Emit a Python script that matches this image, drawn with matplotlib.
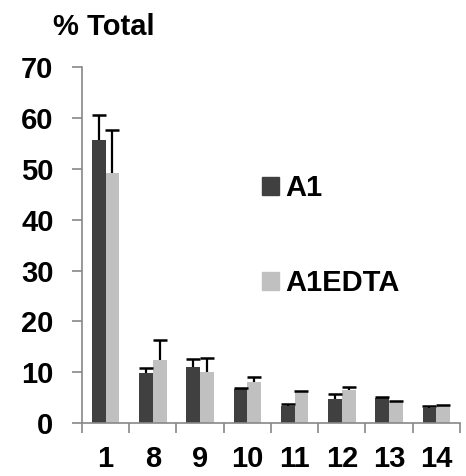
import numpy as np
import matplotlib.pyplot as plt

plt.rcParams['font.family'] = ['Liberation Sans', 'DejaVu Sans']
plt.rcParams['font.weight'] = 'bold'

categories = ['1', '8', '9', '10', '11', '12', '13', '14']
a1 = [55.6, 9.8, 11.1, 6.8, 3.4, 4.7, 5.0, 3.0]
a1_err = [4.9, 1.0, 1.5, 0.2, 0.4, 1.0, 0.1, 0.4]
a1edta = [49.1, 12.4, 10.1, 8.0, 6.3, 6.5, 4.3, 3.4]
a1edta_err = [8.5, 3.9, 2.8, 1.0, 0.1, 0.7, 0.1, 0.2]

fig = plt.figure(figsize=(4.66, 4.76), dpi=100)
ax = fig.add_axes([0.176, 0.111, 0.811, 0.748])

x = np.arange(len(categories))
w = 0.29
ax.bar(x - w / 2, a1, w, color='#404040')
ax.bar(x + w / 2, a1edta, w, color='#c0c0c0')

# upper-only error bars
for xs, vals, errs in [(x - w / 2, a1, a1_err), (x + w / 2, a1edta, a1edta_err)]:
    eb = ax.errorbar(xs, vals, yerr=[np.zeros(len(vals)), errs], fmt='none',
                     ecolor='black', elinewidth=1.6, capsize=5, capthick=1.8)
    eb[1][0].set_visible(False)

ax.set_xlim(-0.5, len(categories) - 0.5)
ax.set_ylim(0, 70)
ax.set_yticks(range(0, 71, 10))
ax.tick_params(axis='y', labelsize=21, length=7, color='#888888', width=1.2, pad=13.5)

ax.set_xticks(np.arange(len(categories) + 1) - 0.5)
ax.set_xticklabels([])
ax.tick_params(axis='x', which='major', length=7, color='#888888', width=1.2)
ax.set_xticks(x, minor=True)
ax.set_xticklabels(categories, minor=True)
ax.tick_params(axis='x', which='minor', length=0, labelsize=21, pad=16)

for s in ['top', 'right']:
    ax.spines[s].set_visible(False)
for s in ['left', 'bottom']:
    ax.spines[s].set_color('#888888')
    ax.spines[s].set_linewidth(1.2)

fig.text(0.114, 0.943, '% Total', fontsize=21, fontweight='bold', va='center')

h1 = plt.Rectangle((0, 0), 1, 1, color='#404040')
h2 = plt.Rectangle((0, 0), 1, 1, color='#c0c0c0')
leg_kw = dict(loc='center left', frameon=False, fontsize=21, borderpad=0,
              borderaxespad=0, handlelength=0.58, handleheight=0.58,
              handletextpad=0.22)
fig.legend([h1], ['A1'], bbox_to_anchor=(0.562, 0.605), **leg_kw)
fig.legend([h2], ['A1EDTA'], bbox_to_anchor=(0.562, 0.405), **leg_kw)

fig.savefig('out.png', dpi=100)
